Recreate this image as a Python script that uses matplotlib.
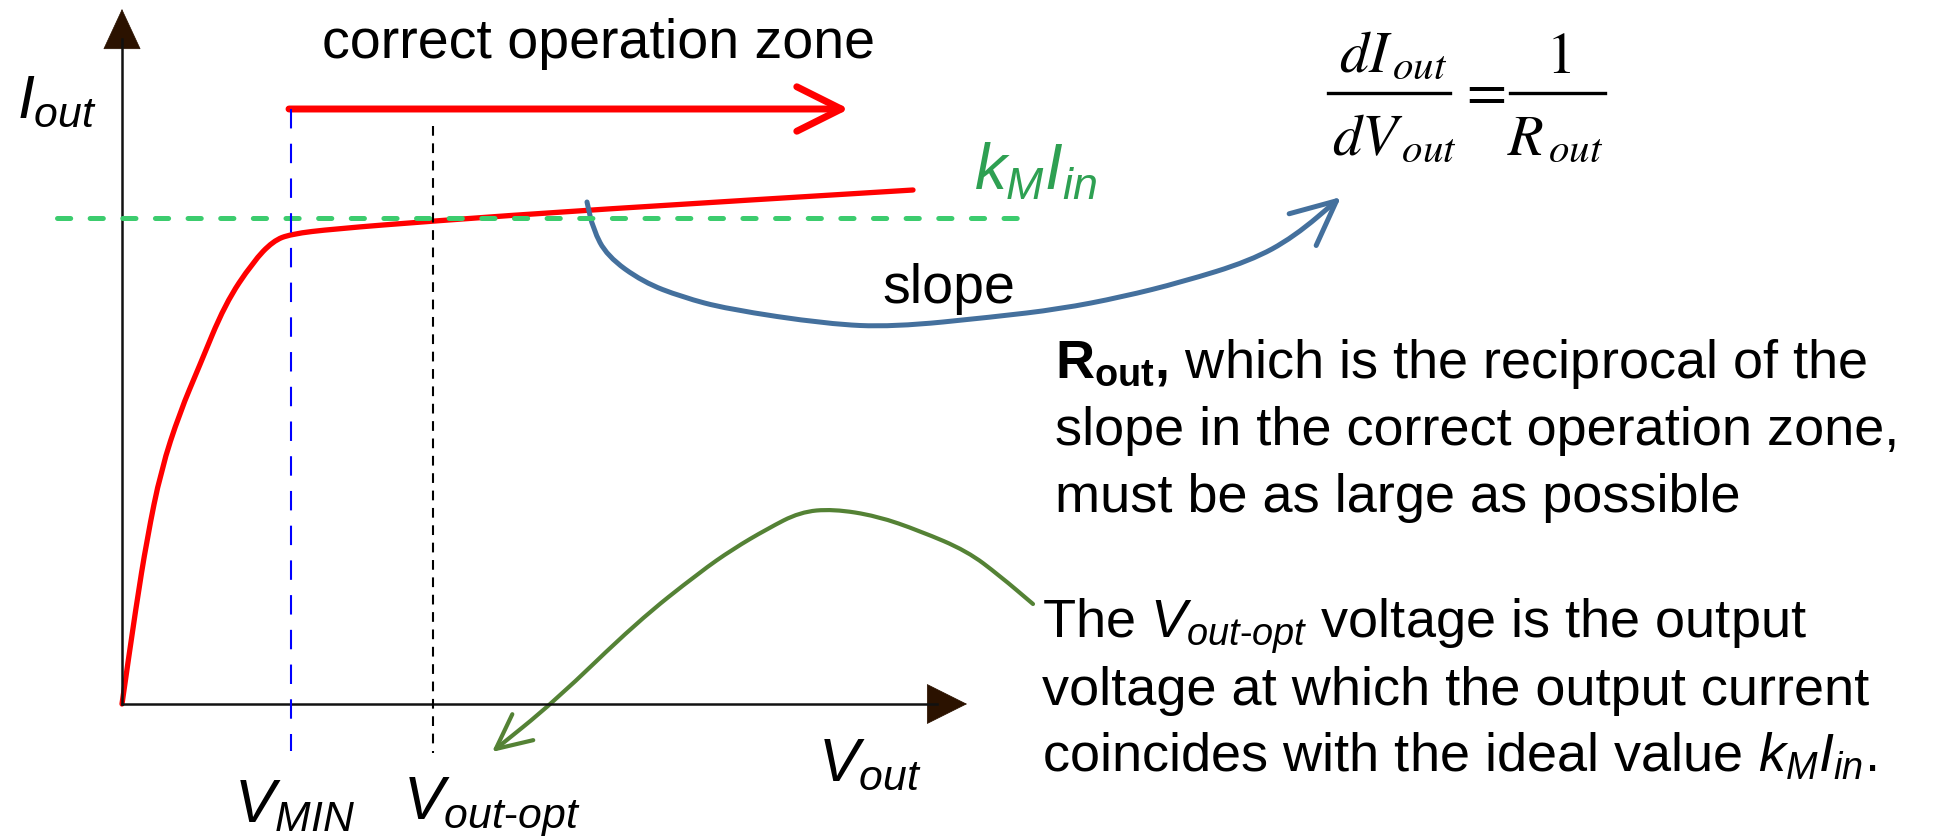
import matplotlib.pyplot as plt
from matplotlib.patches import FancyArrowPatch, PathPatch
from matplotlib.path import Path

plt.rcParams['font.family'] = 'Liberation Sans'
plt.rcParams['mathtext.fontset'] = 'custom'
plt.rcParams['mathtext.rm'] = 'Liberation Sans'
plt.rcParams['mathtext.it'] = 'Liberation Sans:italic'
plt.rcParams['mathtext.bf'] = 'Liberation Sans:bold'
plt.rcParams['lines.scale_dashes'] = False

# ---------------- data (arbitrary diagram units) ----------------
# output characteristic of the current mirror
v_out = [0, 0.14, 0.25, 0.39, 0.58, 0.77, 1.03, 1.31, 1.51, 1.69, 2.11, 3.11, 4.66, 7.91]
i_out = [0, 0.97, 1.65, 2.34, 2.92, 3.37, 4.00, 4.42, 4.63, 4.70, 4.75, 4.83, 4.94, 5.14]

k_m_i_in = 4.86      # ideal output current level
v_min = 1.69         # start of correct operation zone
v_out_opt = 3.11     # where I_out == k_M * I_in
v_axis_end = 8.45
i_axis_end = 6.95
zone_level = 5.95
zone_end = 7.27

# hand-drawn callout arrows
slope_arrow_v = [4.65, 4.71, 4.85, 5.21, 5.60, 6.05, 7.05, 7.71, 8.71, 9.38, 10.00, 10.60, 11.28, 11.72, 12.19]
slope_arrow_i = [5.02, 4.75, 4.48, 4.22, 4.07, 3.95, 3.80, 3.77, 3.87, 3.95, 4.07, 4.22, 4.43, 4.67, 5.07]
opt_arrow_v = [9.11, 8.78, 8.45, 7.98, 7.55, 7.11, 6.78, 6.45, 6.11, 5.78, 5.15, 4.32, 3.70]
opt_arrow_i = [1.00, 1.28, 1.53, 1.73, 1.88, 1.95, 1.92, 1.75, 1.55, 1.32, 0.82, 0.02, -0.48]

RED = '#ff0000'
BLUE_ARC = '#44709d'
GREEN_DASH = '#3ccc6e'
GREEN_TXT = '#2ea052'
GREEN_ARC = '#548235'
HEAD = '#2b1200'


def smooth_path(xs, ys):
    # quadratic bezier through the midpoints of the polyline
    pts = list(zip(xs, ys))
    verts = [pts[0]]
    codes = [Path.MOVETO]
    mid = lambda a, b: ((a[0] + b[0]) / 2, (a[1] + b[1]) / 2)
    verts.append(mid(pts[0], pts[1]))
    codes.append(Path.LINETO)
    for k in range(1, len(pts) - 1):
        verts += [pts[k], mid(pts[k], pts[k + 1])]
        codes += [Path.CURVE3, Path.CURVE3]
    verts.append(pts[-1])
    codes.append(Path.LINETO)
    return Path(verts, codes)


fig = plt.figure(figsize=(19.46, 8.37), dpi=100)
ax = fig.add_axes([0, 0, 1, 1])
ax.set_xlim(-1.22, 18.24)
ax.set_ylim(-1.32, 7.05)
ax.axis('off')

# axes with arrow heads
ax.plot([0, 0], [0, i_axis_end - 0.3], color='#111111', lw=1.8)
ax.plot([0, v_axis_end - 0.3], [0, 0], color='#111111', lw=1.8)
ax.add_patch(FancyArrowPatch((0, i_axis_end - 0.36), (0, i_axis_end),
                             arrowstyle='-|>,head_length=28,head_width=13',
                             mutation_scale=1, color=HEAD, lw=0.5,
                             shrinkA=0, shrinkB=0))
ax.add_patch(FancyArrowPatch((v_axis_end - 0.34, 0), (v_axis_end, 0),
                             arrowstyle='-|>,head_length=28,head_width=14',
                             mutation_scale=1, color=HEAD, lw=0.5,
                             shrinkA=0, shrinkB=0))

# reference lines
ax.plot([-0.65, 9.07], [k_m_i_in, k_m_i_in], color=GREEN_DASH, lw=3.6,
        dashes=(9.5, 14), dash_capstyle='round')
ax.plot([v_min, v_min], [zone_level, -0.47], color='#0000ff', lw=1.5,
        dashes=(14, 11))
ax.plot([v_out_opt, v_out_opt], [5.78, -0.49], color='black', lw=1.5,
        dashes=(7, 5.5))

# characteristic curve
ax.add_patch(PathPatch(smooth_path(v_out, i_out), fill=False, edgecolor=RED,
                       lw=3.8, capstyle='round', joinstyle='round'))

# correct operation zone arrow
ax.add_patch(FancyArrowPatch((v_min - 0.02, zone_level), (zone_end, zone_level),
                             arrowstyle='->,head_length=32,head_width=16',
                             mutation_scale=1, color=RED, lw=5,
                             capstyle='round', joinstyle='round',
                             shrinkA=0, shrinkB=0))

# callout arrows
ax.add_patch(FancyArrowPatch(path=smooth_path(slope_arrow_v, slope_arrow_i),
                             arrowstyle='->,head_length=32,head_width=15',
                             mutation_scale=1, color=BLUE_ARC, lw=3.6,
                             capstyle='round', joinstyle='round'))
ax.add_patch(FancyArrowPatch(path=smooth_path(opt_arrow_v, opt_arrow_i),
                             arrowstyle='->,head_length=25,head_width=12',
                             mutation_scale=1, color=GREEN_ARC, lw=3.0,
                             capstyle='round', joinstyle='round'))

# labels
ax.text(-1.05, 5.88, r'$I_{out}$', fontsize=44, ha='left', va='baseline')
ax.text(1.73, -1.17, r'$V_{MIN}$', fontsize=44, ha='center', va='baseline')
ax.text(3.70, -1.14, r'$V_{out\text{-}opt}$', fontsize=44, ha='center', va='baseline')
ax.text(6.96, -0.75, r'$V_{out}$', fontsize=44, ha='left', va='baseline')
ax.text(2.00, 6.47, 'correct operation zone', fontsize=40, ha='left', va='baseline')
ax.text(8.52, 5.15, r'$k_M I_{in}$', fontsize=46, color=GREEN_TXT, ha='left', va='baseline')
ax.text(7.60, 4.02, 'slope', fontsize=40, ha='left', va='baseline')

# dI_out / dV_out = 1 / R_out
eq = dict(math_fontfamily='stix', fontsize=42, va='baseline')
ax.text(12.17, 6.33, r'$dI_{\,out}$', ha='left', **eq)
ax.text(12.10, 5.50, r'$dV_{\,out}$', ha='left', **eq)
ax.text(13.60, 5.97, r'$=$', ha='center', **eq)
ax.text(14.36, 6.32, r'$1$', ha='center', **eq)
ax.text(14.33, 5.50, r'$R_{\,out}$', ha='center', **eq)
ax.plot([12.06, 13.28], [6.11, 6.11], color='black', lw=2.4)
ax.plot([13.88, 14.83], [6.11, 6.11], color='black', lw=2.4)

rout_lines = [r'$\mathbf{R}_{\mathbf{out}}\mathbf{,}$ which is the reciprocal of the',
              'slope in the correct operation zone,',
              'must be as large as possible']
for k, line in enumerate(rout_lines):
    ax.text(9.33, 3.27 - 0.67 * k, line, fontsize=39, ha='left', va='baseline')

opt_lines = [r'The $V_{out\text{-}opt}$ voltage is the output',
             'voltage at which the output current',
             r'coincides with the ideal value $k_M I_{in}$.']
for k, line in enumerate(opt_lines):
    ax.text(9.20, 0.67 - 0.67 * k, line, fontsize=39, ha='left', va='baseline')

fig.savefig('out.png', dpi=100)
